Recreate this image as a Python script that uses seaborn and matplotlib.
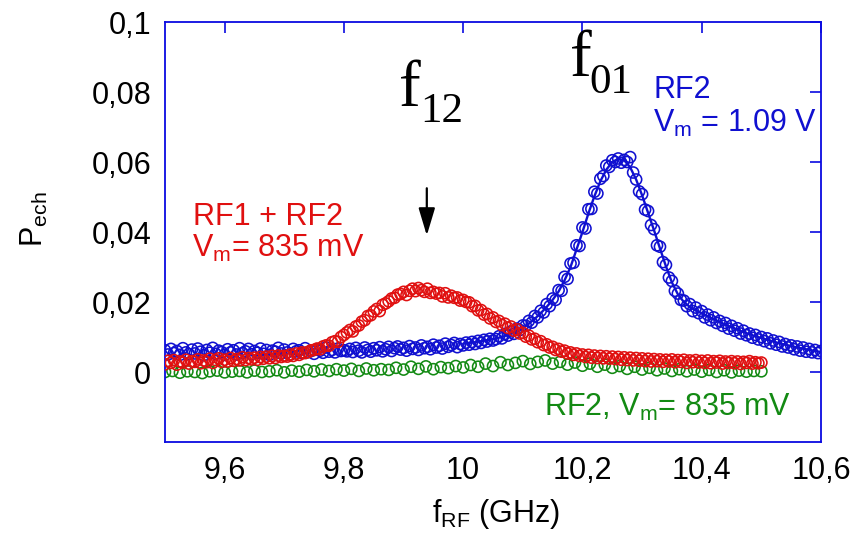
import numpy as np
import pandas as pd
import matplotlib
matplotlib.use("Agg")
import matplotlib.pyplot as plt
import seaborn as sns

# ---------------- data (units of 1e-3) ----------------
# RF2, Vm = 1.09 V  (blue), 9.50 -> 10.60 GHz
blue_vals = [
    6.2, 5.0, 6.6, 5.4, 6.0, 4.9, 6.8, 5.6, 5.1, 6.4,
    5.3, 6.7, 5.8, 4.8, 6.3, 5.5, 6.9, 5.2, 6.1, 5.7,
    4.9, 6.5, 5.6, 6.2, 5.0, 6.8, 5.4, 5.9, 6.6, 5.1,
    6.0, 5.5, 6.7, 5.2, 6.3, 4.9, 6.1, 5.8, 6.9, 5.3,
    6.4, 5.6, 5.0, 6.6, 5.9, 6.2, 5.4, 6.8, 5.7, 6.0,
    5.2, 6.5, 6.1, 5.5, 7.0, 5.8, 6.3, 5.6, 6.7, 6.0,
    6.2,
    5.9, 6.6, 5.7, 6.9, 6.1, 5.6, 7.0, 6.3, 5.8, 6.8,
    6.2, 7.1, 5.9, 6.5, 7.2, 6.0, 6.8, 7.3, 6.4, 6.9,
    6.1, 7.4, 6.6, 7.0, 6.3, 7.6, 6.8, 7.2, 6.5, 7.8,
    7.0, 7.5, 6.7, 8.1, 7.2, 7.7, 8.3, 7.1, 8.0, 7.6,
    8.4, 7.8, 8.6, 8.0, 8.9, 8.3, 9.2, 8.7, 9.5, 9.0,
    9.4, 10.2, 9.6, 10.9, 10.4, 11.6, 10.9, 12.4, 12.0, 13.3,
    13.2, 14.6, 14.1, 16.0, 15.6, 17.5, 17.0, 19.4, 18.8, 21.0,
    20.6, 23.4, 23.2, 27.2, 26.6, 31.0, 31.2, 36.2, 36.0, 41.3,
    41.0, 46.5, 46.6, 51.5, 51.0, 55.2, 56.0, 59.0, 58.6, 60.5,
    60.0, 61.0, 59.8, 60.6, 60.0, 61.4, 57.0, 55.0, 51.6, 50.8,
    46.4, 46.0, 42.0, 40.8, 36.2, 35.8, 31.4, 30.6, 27.0, 26.0,
    23.2, 22.4, 20.6, 20.4, 18.8, 19.4, 17.4, 18.4, 16.8, 17.4,
    15.6, 16.4, 14.8, 15.6, 14.0, 14.6, 13.2, 14.0, 12.4, 13.2,
    11.8, 12.5, 11.0, 11.8, 10.5, 11.0, 9.8, 10.6, 9.3, 10.0,
    8.8, 9.6, 8.2, 9.0, 7.8, 8.6, 7.3, 8.0, 7.0, 7.6,
    6.5, 7.3, 6.1, 7.0, 5.8, 6.6, 5.6, 6.3, 5.4, 6.0,
]
# fitted curve through the blue resonance, 10.00 -> 10.60 GHz
fit_freq = [round(10.0 + 0.01 * i, 2) for i in range(61)]
fit_vals = [
    8.1, 8.3, 8.5, 8.8, 9.1, 9.4, 9.8, 10.3, 10.9, 11.7,
    12.6, 13.8, 15.2, 16.8, 18.6, 20.6, 23.0, 26.2, 30.0, 35.0,
    40.0, 45.3, 50.2, 54.5, 57.8, 60.0, 60.9, 60.5, 58.5, 55.0,
    50.5, 45.5, 40.5, 35.3, 30.2, 25.6, 22.2, 20.0, 18.6, 17.6,
    16.8, 15.9, 15.1, 14.3, 13.5, 12.8, 12.1, 11.4, 10.8, 10.2,
    9.7, 9.2, 8.7, 8.2, 7.8, 7.4, 7.0, 6.7, 6.3, 6.0,
    5.7,
]
# RF1 + RF2, Vm = 835 mV (red), 9.50 -> 10.50 GHz
red_vals = [
    2.2, 3.2, 2.6, 3.4, 2.1, 3.0, 2.7, 3.5, 2.4, 3.1,
    2.9, 3.6, 2.5, 3.3, 2.8, 3.8, 2.6, 3.4, 3.9, 2.9,
    3.5, 3.0, 4.0, 3.2, 3.7, 3.3, 4.2, 3.4, 4.0, 3.6,
    4.1, 3.5, 4.3, 3.8, 4.4, 3.9, 4.6, 4.0, 4.7, 4.3,
    4.6, 4.4, 5.0, 4.6, 5.3, 4.9, 5.6, 5.4, 5.7, 6.2,
    6.3, 6.7, 6.5, 7.3, 7.6, 7.5, 8.5, 8.8, 8.6, 10.0,
    10.6, 11.3, 12.0, 11.6, 13.0, 13.3, 14.4, 14.8, 16.0, 16.2,
    17.3, 18.0, 17.4, 19.2, 19.6, 20.2, 21.0, 21.2, 22.1, 22.3,
    22.9, 22.0, 23.2, 23.8, 23.1, 24.0, 23.4, 22.9, 23.8, 22.6,
    22.9, 22.4, 22.6, 21.6, 22.5, 21.3, 21.8, 21.2, 21.3, 20.4,
    20.6, 20.0, 19.9, 18.8, 18.9, 17.6, 17.7, 16.4, 16.6, 15.3,
    15.6, 14.3, 14.6, 13.4, 13.8, 12.6, 13.0, 11.8, 12.2, 11.0,
    11.2, 10.1, 10.4, 9.3, 9.5, 8.5, 8.8, 7.7, 7.9, 7.0,
    7.2, 6.3, 6.6, 5.8, 6.1, 5.3, 5.6, 4.9, 5.3, 4.6,
    5.0, 4.3, 4.9, 4.1, 4.7, 4.0, 4.6, 3.9, 4.5, 3.8,
    4.4, 3.7, 4.3, 3.5, 4.2, 3.4, 4.1, 3.3, 4.0, 3.2,
    3.9, 3.1, 3.8, 3.0, 3.7, 3.1, 3.6, 2.9, 3.5, 3.0,
    3.6, 2.8, 3.4, 2.9, 3.5, 2.6, 3.3, 2.8, 3.4, 2.7,
    3.2, 2.6, 3.3, 2.5, 3.1, 2.7, 3.2, 2.4, 3.0, 2.6,
    3.1, 2.5, 3.0, 2.3, 2.9, 2.6, 3.1, 2.4, 2.8, 2.5,
    2.7,
]
# RF2, Vm = 835 mV (green), 9.50 -> 10.50 GHz
green_vals = [
    0.0, 0.3, -0.2, 0.2, 0.0, -0.3, 0.2, 0.4, -0.1, 0.1,
    0.3, -0.1, 0.4, 0.0, 0.2, 0.5, -0.1, 0.4, 0.1, 0.6,
    0.2, 0.7, 0.3, 0.8, 0.4, 0.9, 0.3, 1.0, 0.5, 0.8,
    0.6, 1.2, 0.7, 1.5, 0.9, 1.6, 0.8, 1.4, 1.1, 1.7,
    1.3, 2.0, 1.5, 2.4, 1.7, 2.8, 2.0, 2.6, 3.1, 2.3,
    2.9, 3.3, 2.4, 2.9, 2.1, 2.7, 1.8, 2.4, 1.5, 2.1,
    1.2, 1.7, 0.9, 1.5, 0.7, 1.2, 0.5, 1.0, 0.3, 0.8,
    0.2, 0.7, 0.1, 0.6, 0.0, 0.5, -0.1, 0.4, 0.1, 0.3,
    0.2,
]
scale = 1e-3  # values above are in units of 1e-3

x_ticks = [9.6, 9.8, 10.0, 10.2, 10.4, 10.6]
x_tick_labels = ["9,6", "9,8", "10", "10,2", "10,4", "10,6"]
y_ticks = [0.0, 0.02, 0.04, 0.06, 0.08, 0.1]
y_tick_labels = ["0", "0,02", "0,04", "0,06", "0,08", "0,1"]

blue_df = pd.DataFrame({"f": np.linspace(9.5, 10.6, len(blue_vals)),
                        "P": np.array(blue_vals) * scale})
fit_df = pd.DataFrame({"f": fit_freq, "P": np.array(fit_vals) * scale})
red_df = pd.DataFrame({"f": np.linspace(9.5, 10.5, len(red_vals)),
                       "P": np.array(red_vals) * scale})
green_df = pd.DataFrame({"f": np.linspace(9.5, 10.5, len(green_vals)),
                         "P": np.array(green_vals) * scale})

# ---------------- styling ----------------
sns.set_theme(style="white")
plt.rcParams["font.family"] = ["Liberation Sans", "DejaVu Sans"]
plt.rcParams["mathtext.fontset"] = "custom"
plt.rcParams["mathtext.rm"] = "Liberation Serif"
plt.rcParams["mathtext.sf"] = "Liberation Sans"
plt.rcParams["mathtext.it"] = "Liberation Serif:italic"

BLUE = "#1010d0"
RED = "#e01010"
GREEN = "#138a13"
AXC = "#0a0ae0"

fig = plt.figure(figsize=(8.57, 5.44), dpi=100)
ax = fig.add_axes([165 / 857, 1 - 442 / 544, 656 / 857, 420 / 544])

ms = 64
lw = 1.15
sns.scatterplot(data=green_df, x="f", y="P", ax=ax, marker="o", s=ms,
                facecolor="none", edgecolor=GREEN, linewidth=lw, zorder=2)
sns.scatterplot(data=blue_df, x="f", y="P", ax=ax, marker="o", s=ms,
                facecolor="none", edgecolor=BLUE, linewidth=lw, zorder=3)
sns.lineplot(data=fit_df, x="f", y="P", ax=ax, color=BLUE, linewidth=1.7,
             zorder=4)
sns.scatterplot(data=red_df, x="f", y="P", ax=ax, marker="o", s=ms,
                facecolor="none", edgecolor=RED, linewidth=lw, zorder=5)

ax.set_xlim(9.5, 10.6)
ax.set_ylim(-0.02, 0.1)
ax.set_xticks(x_ticks)
ax.set_xticklabels(x_tick_labels)
ax.set_yticks(y_ticks)
ax.set_yticklabels(y_tick_labels)

for sp in ax.spines.values():
    sp.set_color(AXC)
    sp.set_linewidth(1.3)
    sp.set_visible(True)

ax.tick_params(axis="both", which="both", direction="in", length=8,
               width=1.2, color=AXC, labelsize=22, labelcolor="black",
               top=True, right=True, pad=10)

ax.set_xlabel(r"$\mathsf{f_{RF}}$ (GHz)", fontsize=22, color="black")
ax.set_ylabel(r"$\mathsf{P_{ech}}$", fontsize=22, color="black")
ax.xaxis.set_label_coords(0.505, -0.13)
ax.yaxis.set_label_coords(-0.175, 0.53)

serif = ["Liberation Serif", "DejaVu Serif"]
# f12
ax.text(9.8916, 0.076, "f", fontsize=47, family=serif, color="black",
        ha="left", va="baseline")
ax.text(9.9287, 0.0714, "12", fontsize=31, family=serif, color="black",
        ha="left", va="baseline")
# f01
ax.text(10.1785, 0.0845, "f", fontsize=47, family=serif, color="black",
        ha="left", va="baseline")
ax.text(10.2122, 0.0798, "01", fontsize=31, family=serif, color="black",
        ha="left", va="baseline")

ax.text(10.3186, 0.0783, "RF2", fontsize=22, color=BLUE, ha="left",
        va="baseline")
ax.text(10.3186, 0.0686, r"$\mathsf{V_m}$ = 1.09 V", fontsize=22,
        color=BLUE, ha="left", va="baseline")
ax.text(9.547, 0.042, "RF1 + RF2", fontsize=22, color=RED, ha="left",
        va="baseline")
ax.text(9.545, 0.0329, r"$\mathsf{V_m}$= 835 mV", fontsize=22, color=RED,
        ha="left", va="baseline")
ax.text(10.1363, -0.01257, r"RF2, $\mathsf{V_m}$= 835 mV", fontsize=22,
        color=GREEN, ha="left", va="baseline")

ax.annotate("", xy=(9.939, 0.039), xytext=(9.939, 0.0525),
            arrowprops=dict(arrowstyle="-|>,head_length=1.4,head_width=0.42",
                            mutation_scale=12, color="black", lw=1.6,
                            shrinkA=0, shrinkB=0))

fig.savefig("out.png", dpi=100)
